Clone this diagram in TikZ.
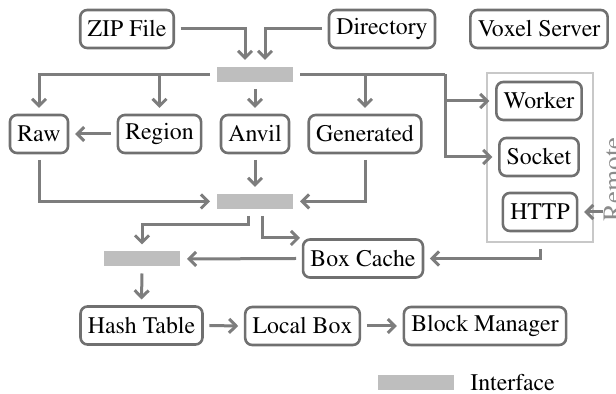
\documentclass[tikz,border=0pt]{standalone}
\usepackage[T1]{fontenc}
\usepackage{times}
\usetikzlibrary{arrows.meta}
\definecolor{lc}{RGB}{125,125,125}
\definecolor{bc}{RGB}{112,112,112}
\definecolor{barc}{RGB}{190,190,190}
\definecolor{rc}{RGB}{200,200,200}
\definecolor{labc}{RGB}{140,140,140}
\newcommand{\myfnt}{\rmfamily\fontsize{11.9}{14}\selectfont}
\newcommand{\mylabfnt}{\rmfamily\fontsize{13.6}{16}\selectfont}
\begin{document}
\begin{tikzpicture}[x=0.5pt,y=-0.5pt,
 box/.style={draw=bc, line width=1.3pt, rounded corners=3.5pt, minimum height=19pt, inner xsep=3.7pt, inner ysep=0pt, outer sep=3.5pt, font=\myfnt},
 bar/.style={fill=barc, minimum width=38pt, minimum height=7.5pt, inner sep=0pt, outer sep=3.5pt},
 conn/.style={draw=lc, line width=1.5pt, -{Straight Barb[length=3.5pt,width=7pt]}},
 plain/.style={draw=lc, line width=1.5pt}]
\useasboundingbox (0,0) rectangle (616,394);
% remote group
\node[draw=rc, line width=1pt, minimum width=53pt, minimum height=84.5pt, inner sep=0pt, outer sep=3.5pt] (remote) at (540,157.5) {};
% nodes
\node[box] (zip) at (127,29) {ZIP File};
\node[box] (dir) at (382,29) {Directory};
\node[box] (voxel) at (539,29) {Voxel Server};
\node[bar] (bar1) at (255,74.5) {};
\node[box] (raw) at (39,134) {Raw};
\node[box] (region) at (159.5,134) {Region};
\node[box] (anvil) at (255,134) {Anvil};
\node[box] (gen) at (365,134) {Generated};
\node[box] (worker) at (539,101) {Worker};
\node[box] (socket) at (539,157) {Socket};
\node[box] (http) at (540,212) {HTTP};
\node[bar] (bar2) at (255,201.5) {};
\node[box] (boxcache) at (363,258.5) {Box Cache};
\node[bar] (bar3) at (142,259) {};
\node[box] (hash) at (141.5,325.5) {Hash Table};
\node[box] (local) at (302.5,326) {Local Box};
\node[box] (block) at (485,326) {Block Manager};
\node[rotate=90, anchor=north, inner sep=0pt, text=labc, font=\mylabfnt] (rlab) at (603.5,179.5) {Remote};
% legend
\node[bar] (legbar) at (415.5,383) {};
\node[anchor=west, inner sep=0pt, font=\myfnt] (legtxt) at (470,383) {Interface};
% coordinates
\coordinate (s1) at (445,74.5);
\coordinate (j1) at (142,225);
\coordinate (j2) at (300,238);
\coordinate (rin) at (603,212);
% connectors
\draw[conn] (zip.east) -| ([xshift=-5pt]bar1.north);
\draw[conn] (dir.west) -| ([xshift=5pt]bar1.north);
\draw[conn] (bar1.west) -| (raw.north);
\draw[conn] (bar1.west -| region.north) -- (region.north);
\draw[conn] (bar1.south) -- (anvil.north);
\draw[conn] (bar1.east) -| (gen.north);
\draw[plain] (bar1.east) -- (s1);
\draw[conn] (s1) |- (worker.west);
\draw[conn] (s1) |- (socket.west);
\draw[conn] (region.west) -- (raw.east);
\draw[conn] (raw.south) |- (bar2.west);
\draw[conn] (gen.south) |- (bar2.east);
\draw[conn] (anvil.south) -- (bar2.north);
\draw[conn] ([xshift=-3.5pt]bar2.south) |- (j1) -- (bar3.north);
\draw[conn] ([xshift=3.5pt]bar2.south) |- (j2);
\draw[conn] (boxcache.west) -- (bar3.east);
\draw[conn] (remote.south) |- (boxcache.east);
\draw[conn] (rin) -- (http.east);
\draw[conn] (bar3.south) -- (hash.north);
\draw[conn] (hash.east) -- (local.west);
\draw[conn] (local.east) -- (block.west);
\end{tikzpicture}
\end{document}
